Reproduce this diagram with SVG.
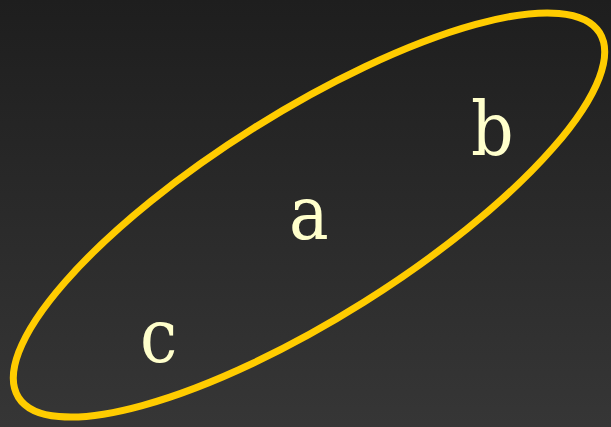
<svg xmlns="http://www.w3.org/2000/svg" width="611" height="427" viewBox="0 0 611 427">
<defs>
<linearGradient id="bg" x1="0" y1="0" x2="0" y2="1">
<stop offset="0" stop-color="#1e1e1e"/>
<stop offset="1" stop-color="#363636"/>
</linearGradient>
</defs>
<style>
.lbl{font-family:"DejaVu Serif Condensed","DejaVu Serif",serif;font-stretch:condensed;font-size:74px;fill:#ffffcc;}
.ring{fill:none;stroke:#ffcc00;stroke-width:7;}
</style>
<rect width="611" height="427" fill="url(#bg)"/>
<g id="set">
<ellipse class="ring" cx="309" cy="215" rx="343" ry="103" transform="rotate(-32.1 309 215)"/>
</g>
<g id="node-a"><text class="lbl" x="289" y="239">a</text></g>
<g id="node-b"><text class="lbl" x="471" y="155">b</text></g>
<g id="node-c"><text class="lbl" x="140" y="362">c</text></g>
</svg>
